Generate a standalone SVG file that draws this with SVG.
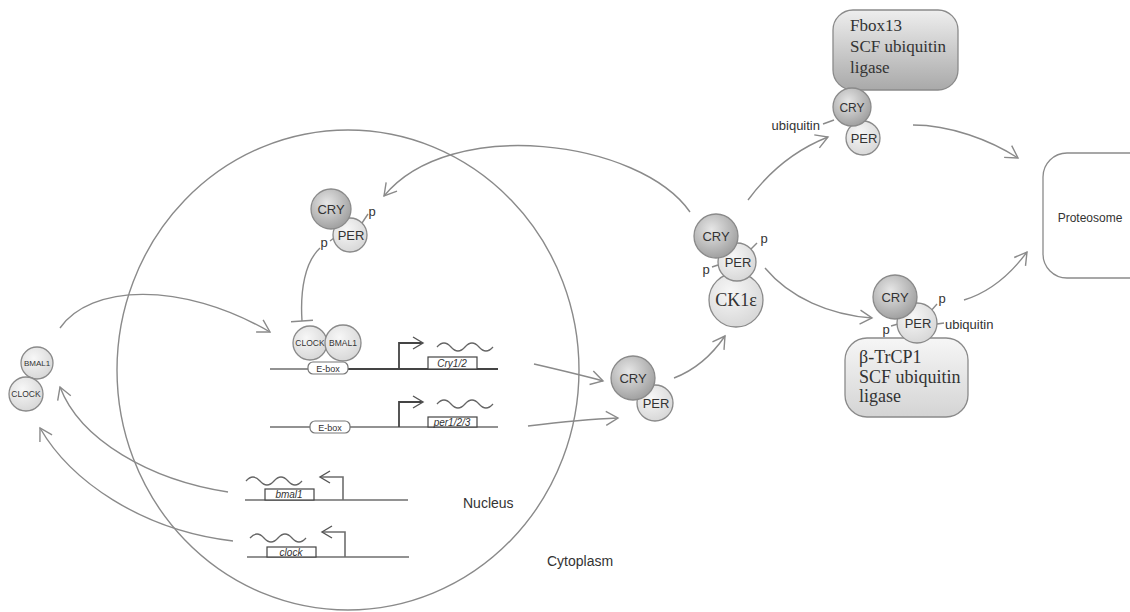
<svg xmlns="http://www.w3.org/2000/svg" width="1130" height="612" viewBox="0 0 1130 612">
<style>
.ln{fill:none;stroke:#8a8a8a;stroke-width:1.4}
.dna{fill:none;stroke:#6e6e6e;stroke-width:1.6}
.dnad{fill:none;stroke:#444;stroke-width:1.8}
.wav{fill:none;stroke:#666;stroke-width:1.3}
.box{fill:#fff;stroke:#444;stroke-width:1.2}
.ebox{fill:#fff;stroke:#777;stroke-width:1.2}
.circ{stroke:#8a8a8a;stroke-width:1.3}
.t{font-family:"Liberation Sans",Arial,sans-serif;fill:#333}
.s{font-family:"Liberation Serif","Times New Roman",serif;fill:#333}
.it{font-family:"Liberation Sans",Arial,sans-serif;font-style:italic;fill:#333;font-size:10px}
</style>
<defs>
<radialGradient id="gCry" cx="0.4" cy="0.35" r="0.7">
<stop offset="0" stop-color="#e6e6e6"/><stop offset="1" stop-color="#9c9c9c"/>
</radialGradient>
<radialGradient id="gPer" cx="0.4" cy="0.35" r="0.7">
<stop offset="0" stop-color="#f7f7f7"/><stop offset="1" stop-color="#d6d6d6"/>
</radialGradient>
<linearGradient id="gFbox" x1="0" y1="0" x2="0" y2="1">
<stop offset="0" stop-color="#eeeeee"/><stop offset="1" stop-color="#a9a9a9"/>
</linearGradient>
<linearGradient id="gTr" x1="0" y1="0" x2="0" y2="1">
<stop offset="0" stop-color="#f6f6f6"/><stop offset="1" stop-color="#d4d4d4"/>
</linearGradient>
<marker id="arr" markerWidth="16" markerHeight="16" refX="13" refY="8" orient="auto" markerUnits="userSpaceOnUse">
<path d="M1,1 L13,8 L1,15" fill="none" stroke="#8a8a8a" stroke-width="1.4"/>
</marker>
<marker id="arrd" markerWidth="16" markerHeight="16" refX="13" refY="8" orient="auto" markerUnits="userSpaceOnUse">
<path d="M3,2 L13,8 L3,14" fill="none" stroke="#555" stroke-width="1.4"/>
</marker>
<marker id="tee" markerWidth="4" markerHeight="24" refX="2" refY="12" orient="auto" markerUnits="userSpaceOnUse">
<line x1="2" y1="1" x2="2" y2="23" stroke="#8a8a8a" stroke-width="1.6"/>
</marker>
</defs>
<rect width="1130" height="612" fill="#fff"/>

<g id="nucleus">
<ellipse cx="348" cy="370" rx="231" ry="240" fill="none" stroke="#8a8a8a" stroke-width="1.4"/>
<text class="t" x="463" y="508" font-size="14">Nucleus</text>
</g>
<g id="cytoplasm">
<text class="t" x="547" y="566" font-size="14">Cytoplasm</text>
</g>

<g id="connectors">
<path class="ln" d="M60,328 C90,285 180,280 270,332" marker-end="url(#arr)"/>
<path class="ln" d="M228,492 C150,480 80,440 60,387" marker-end="url(#arr)"/>
<path class="ln" d="M233,541 C140,530 70,480 40,428" marker-end="url(#arr)"/>
<path class="ln" d="M320,248 C305,262 300,290 302,321" marker-end="url(#tee)"/>
<path class="ln" d="M690,212 C640,140 450,115 384,196" marker-end="url(#arr)"/>
<path class="ln" d="M534,364 C560,370 585,376 603,381" marker-end="url(#arr)"/>
<path class="ln" d="M528,426 C560,422 590,419 618,418" marker-end="url(#arr)"/>
<path class="ln" d="M674,378 C695,370 712,355 725,336" marker-end="url(#arr)"/>
<path class="ln" d="M748,200 C770,170 795,150 828,137" marker-end="url(#arr)"/>
<path class="ln" d="M765,268 C790,298 830,315 872,318" marker-end="url(#arr)"/>
<path class="ln" d="M913,125 C950,125 990,140 1018,158" marker-end="url(#arr)"/>
<path class="ln" d="M964,300 C990,292 1010,275 1027,252" marker-end="url(#arr)"/>
</g>

<g id="bmal1-clock-cyto">
<circle class="circ" cx="37" cy="363" r="16" fill="url(#gPer)"/>
<text class="t" x="37" y="366" font-size="8" text-anchor="middle">BMAL1</text>
<circle class="circ" cx="26" cy="394" r="17" fill="url(#gPer)"/>
<text class="t" x="26" y="397" font-size="8.5" text-anchor="middle">CLOCK</text>
</g>

<g id="gene-cry">
<line class="dna" x1="270" y1="369" x2="310" y2="369"/>
<line class="dnad" x1="348" y1="369" x2="498" y2="369"/>
<rect class="ebox" x="308" y="362" width="40" height="12" rx="5"/>
<text class="t" x="328" y="371.5" font-size="9" text-anchor="middle">E-box</text>
<circle class="circ" cx="310" cy="343" r="17" fill="url(#gPer)"/>
<text class="t" x="310" y="346" font-size="8.5" text-anchor="middle">CLOCK</text>
<circle class="circ" cx="343" cy="343" r="18" fill="url(#gPer)"/>
<text class="t" x="343" y="346" font-size="8.5" text-anchor="middle">BMAL1</text>
<path class="dnad" d="M399,369 V343 H423" marker-end="url(#arrd)"/>
<path class="wav" d="M437,347 q7,-8 14,0 t14,0 t14,0 t14,0"/>
<rect class="box" x="428" y="357" width="49" height="12"/>
<text class="it" x="452" y="366.5" text-anchor="middle">Cry1/2</text>
</g>

<g id="gene-per">
<line class="dna" x1="270" y1="427" x2="498" y2="427"/>
<rect class="ebox" x="310" y="421" width="40" height="12" rx="5"/>
<text class="t" x="330" y="430.5" font-size="9" text-anchor="middle">E-box</text>
<path class="dnad" d="M399,427 V402 H423" marker-end="url(#arrd)"/>
<path class="wav" d="M437,404 q7,-8 14,0 t14,0 t14,0 t14,0"/>
<rect class="box" x="428" y="417" width="49" height="10"/>
<text class="it" x="452" y="425.5" text-anchor="middle">per1/2/3</text>
</g>

<g id="gene-bmal1">
<line class="dna" x1="245" y1="500" x2="408" y2="500"/>
<path class="dna" d="M343,500 V477 H320" marker-end="url(#arrd)"/>
<path class="wav" d="M246,481 q7,-8 14,0 t14,0 t14,0 t14,0"/>
<rect class="box" x="265" y="489" width="49" height="11"/>
<text class="it" x="289" y="498" text-anchor="middle">bmal1</text>
</g>

<g id="gene-clock">
<line class="dna" x1="247" y1="557" x2="409" y2="557"/>
<path class="dna" d="M345,557 V532 H322" marker-end="url(#arrd)"/>
<path class="wav" d="M250,538 q7,-8 14,0 t14,0 t14,0 t14,0"/>
<rect class="box" x="267" y="547" width="49" height="10"/>
<text class="it" x="291" y="555.5" text-anchor="middle">clock</text>
</g>

<g id="cry-per-nuclear">
<line class="ln" x1="362" y1="223" x2="368" y2="214"/>
<line class="ln" x1="330" y1="241" x2="334" y2="238"/>
<circle class="circ" cx="350" cy="235" r="17" fill="url(#gPer)"/>
<text class="t" x="351" y="240" font-size="13" text-anchor="middle">PER</text>
<circle class="circ" cx="331" cy="209" r="20" fill="url(#gCry)"/>
<text class="t" x="331" y="214" font-size="13" text-anchor="middle">CRY</text>
<text class="t" x="372" y="216" font-size="13" text-anchor="middle">p</text>
<text class="t" x="324" y="247" font-size="13" text-anchor="middle">p</text>
</g>

<g id="cry-per-cyto">
<circle class="circ" cx="655" cy="403" r="18" fill="url(#gPer)"/>
<text class="t" x="656" y="408" font-size="13" text-anchor="middle">PER</text>
<circle class="circ" cx="633" cy="378" r="22" fill="url(#gCry)"/>
<text class="t" x="633" y="383" font-size="13" text-anchor="middle">CRY</text>
</g>

<g id="ck1e-complex">
<circle class="circ" cx="736" cy="300" r="27" fill="url(#gPer)"/>
<text class="s" x="736" y="306" font-size="18" text-anchor="middle">CK1ε</text>
<line class="ln" x1="750" y1="250" x2="757" y2="243"/>
<line class="ln" x1="712" y1="267" x2="718" y2="265"/>
<circle class="circ" cx="737" cy="262" r="19" fill="url(#gPer)"/>
<text class="t" x="738" y="267" font-size="13" text-anchor="middle">PER</text>
<circle class="circ" cx="716" cy="236" r="22" fill="url(#gCry)"/>
<text class="t" x="716" y="241" font-size="13" text-anchor="middle">CRY</text>
<text class="t" x="764" y="243" font-size="13" text-anchor="middle">p</text>
<text class="t" x="706" y="274" font-size="13" text-anchor="middle">p</text>
</g>

<g id="fbox13">
<rect x="833" y="10" width="125" height="80" rx="20" fill="url(#gFbox)" stroke="#8a8a8a" stroke-width="1.3"/>
<text class="s" x="850" y="31" font-size="17">Fbox13</text>
<text class="s" x="850" y="52" font-size="17">SCF ubiquitin</text>
<text class="s" x="850" y="73" font-size="17">ligase</text>
<line class="ln" x1="823" y1="124" x2="834" y2="120"/>
<circle class="circ" cx="863" cy="138" r="17" fill="url(#gPer)"/>
<text class="t" x="864" y="143" font-size="13" text-anchor="middle">PER</text>
<circle class="circ" cx="852" cy="107" r="19" fill="url(#gCry)"/>
<text class="t" x="852" y="112" font-size="12" text-anchor="middle">CRY</text>
<text class="t" x="820" y="130" font-size="13" text-anchor="end">ubiquitin</text>
</g>

<g id="btrcp1">
<rect x="845" y="338" width="123" height="79" rx="22" fill="url(#gTr)" stroke="#8a8a8a" stroke-width="1.3"/>
<text class="s" x="859" y="363" font-size="18">β-TrCP1</text>
<text class="s" x="859" y="383" font-size="18">SCF ubiquitin</text>
<text class="s" x="859" y="402" font-size="18">ligase</text>
<line class="ln" x1="930" y1="312" x2="937" y2="304"/>
<line class="ln" x1="891" y1="326" x2="898" y2="324"/>
<line class="ln" x1="937" y1="324" x2="944" y2="323"/>
<circle class="circ" cx="917" cy="323" r="20" fill="url(#gPer)"/>
<text class="t" x="918" y="328" font-size="13" text-anchor="middle">PER</text>
<circle class="circ" cx="895" cy="297" r="22" fill="url(#gCry)"/>
<text class="t" x="895" y="302" font-size="13" text-anchor="middle">CRY</text>
<text class="t" x="942" y="303" font-size="13" text-anchor="middle">p</text>
<text class="t" x="886" y="334" font-size="13" text-anchor="middle">p</text>
<text class="t" x="945" y="329" font-size="13">ubiquitin</text>
</g>

<g id="proteosome">
<rect x="1043" y="153" width="110" height="125" rx="24" fill="#fff" stroke="#8a8a8a" stroke-width="1.3"/>
<text class="t" x="1090" y="222" font-size="12" text-anchor="middle">Proteosome</text>
</g>
</svg>
